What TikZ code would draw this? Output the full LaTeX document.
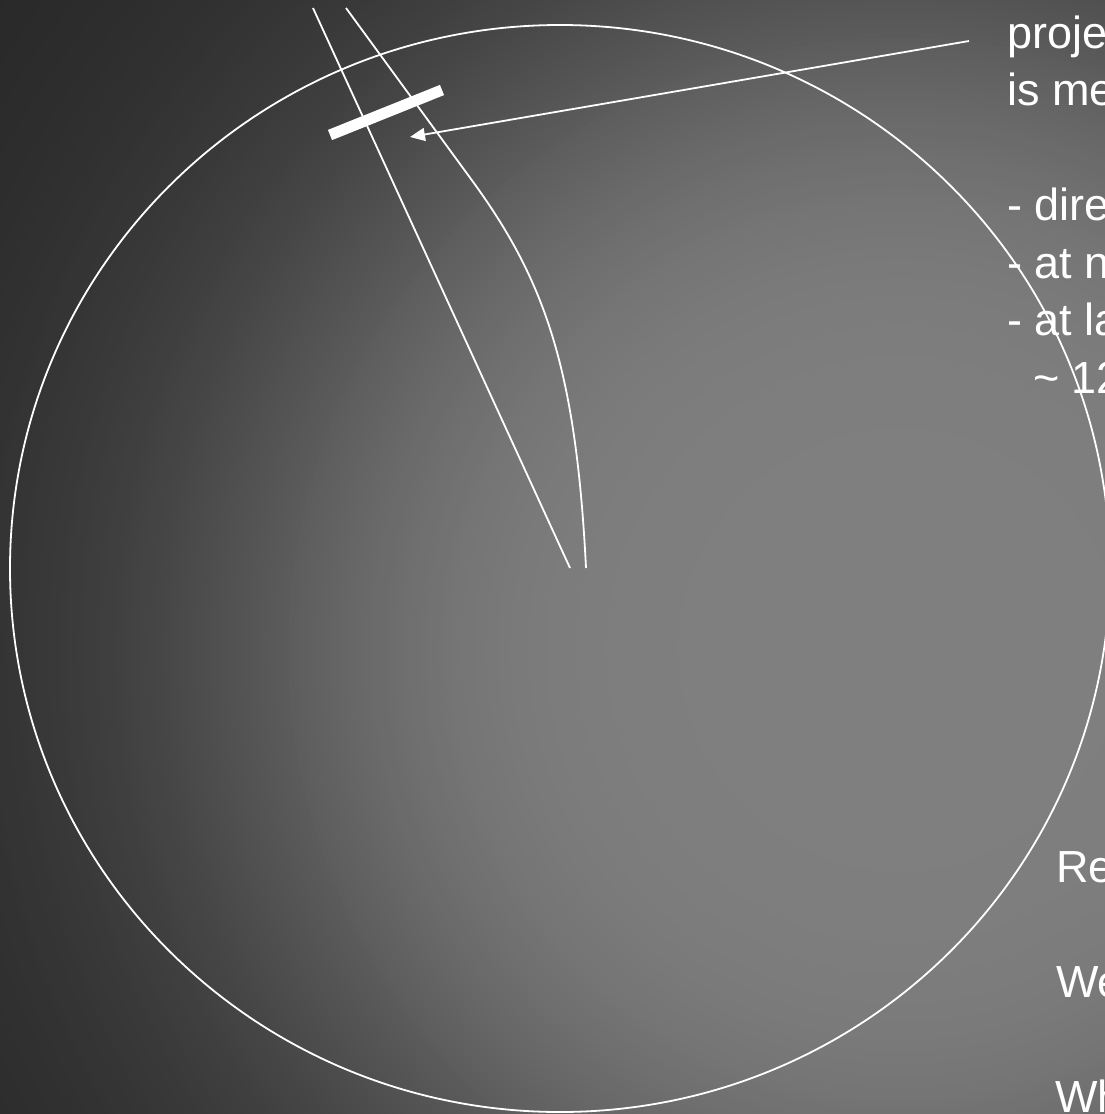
\documentclass[tikz,border=0pt]{standalone}
\usepackage{fontspec}
\setmainfont{Liberation Sans}
\usetikzlibrary{arrows.meta}
\begin{document}
\begin{tikzpicture}[x=1pt,y=-1pt,
  thinline/.style={draw=white,line width=1.8pt},
  label/.style={text=white,font=\fontsize{45}{57.5}\selectfont,inner sep=0pt,anchor=base west}]
\useasboundingbox (0,0) rectangle (1105,1114);
\clip (0,0) rectangle (1105,1114);
% background: concentric bands of a radial gradient
\foreach \r in {1320,1314,...,0} {
  \pgfmathsetmacro\gv{(34+93/(1+(\r/680)^5))/255}
  \definecolor{cur}{gray}{\gv}
  \fill[cur] (900,650) circle (\r pt);
}
% big circle
\draw[thinline] (560,568.5) ellipse [x radius=550pt, y radius=543.5pt];
% straight ray
\coordinate (r1a) at (313,8);
\coordinate (r1b) at (570,568);
\draw[thinline] (r1a) -- (r1b);
% curved ray
\coordinate (r2a) at (346,8);
\coordinate (r2m) at (471.7,180);
\coordinate (r2b) at (586,568);
\draw[thinline] (r2a) -- (r2m) .. controls (544.7,280) and (576,368) .. (r2b);
% detector bar
\coordinate (bara) at (330,135);
\coordinate (barb) at (442,90);
\draw[white,line width=11pt] (bara) -- (barb);
% arrow
\coordinate (arrs) at (969,41);
\coordinate (arrt) at (410,137);
\draw[thinline,-{Triangle[length=15pt,width=13pt]}] (arrs) -- (arrt);
% texts
\node[label] (t1) at (1007,48) {proje};
\node[label] (t2) at (1007,105.5) {is me};
\node[label] (t3) at (1007,220.5) {- dire};
\node[label] (t4) at (1007,278) {- at n};
\node[label] (t5) at (1007,335.5) {- at la};
\node[label] (t6) at (1033,393) {\textasciitilde{} 12};
\node[label] (t7) at (1056,882) {Re};
\node[label] (t8) at (1056,997) {We};
\node[label] (t9) at (1055,1112) {Wh};
\end{tikzpicture}
\end{document}
